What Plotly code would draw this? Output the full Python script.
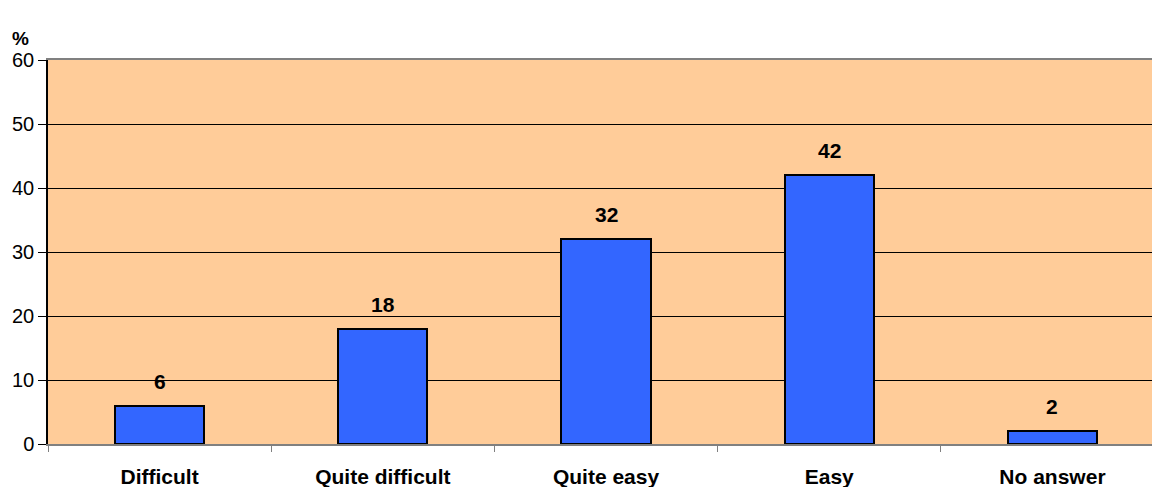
import plotly.graph_objects as go

categories = ["Difficult", "Quite difficult", "Quite easy", "Easy", "No answer"]
values = [6, 18, 32, 42, 2]
y_ticks = [0, 10, 20, 30, 40, 50, 60]

x_idx = list(range(len(categories)))
FONT = "Liberation Sans, Arial"

fig = go.Figure()
fig.add_trace(go.Bar(
    x=x_idx, y=values, width=0.40,
    marker=dict(color="#3366FF", line=dict(color="black", width=2)),
    hoverinfo="skip",
))

for xi, v in zip(x_idx, values):
    fig.add_annotation(x=xi, y=v, text="<b>%d</b>" % v, showarrow=False,
                       yanchor="bottom", yshift=11,
                       font=dict(family=FONT, size=21, color="black"))

fig.add_annotation(xref="paper", yref="paper", x=-0.0345, y=1.0, xanchor="left",
                   yanchor="bottom", yshift=9, text="<b>%</b>", showarrow=False,
                   font=dict(family=FONT, size=19, color="black"))

fig.update_layout(
    width=1152, height=487,
    margin=dict(l=48, r=0, t=60, b=43, autoexpand=False),
    paper_bgcolor="white", plot_bgcolor="#FFCC99",
    showlegend=False,
    font=dict(family=FONT, size=20, color="black"),
    bargap=0,
)
fig.update_xaxes(
    range=[-0.5, 4.446], tickvals=x_idx, automargin=False,
    ticktext=["<b>%s</b>" % c for c in categories],
    tickfont=dict(size=21),
    ticks="", ticklabelstandoff=13,
    showline=True, linecolor="#808080", linewidth=2, mirror=True,
    showgrid=False, zeroline=False,
    minor=dict(tickvals=[i - 0.5 for i in range(len(categories) + 1)],
               ticks="outside", ticklen=6, tickcolor="#808080", tickwidth=1, showgrid=False),
)
fig.update_yaxes(
    range=[0, 60], tickvals=y_ticks, ticks="outside", ticklen=8, tickcolor="black",
    automargin=False,
    showline=True, linecolor="black", linewidth=1.5,
    showgrid=True, gridcolor="black", gridwidth=1, zeroline=False,
    tickfont=dict(size=20),
)

fig.write_html("out.html", config={"displayModeBar": False},
               post_script="document.body.style.margin='0';document.body.style.overflow='hidden';")
